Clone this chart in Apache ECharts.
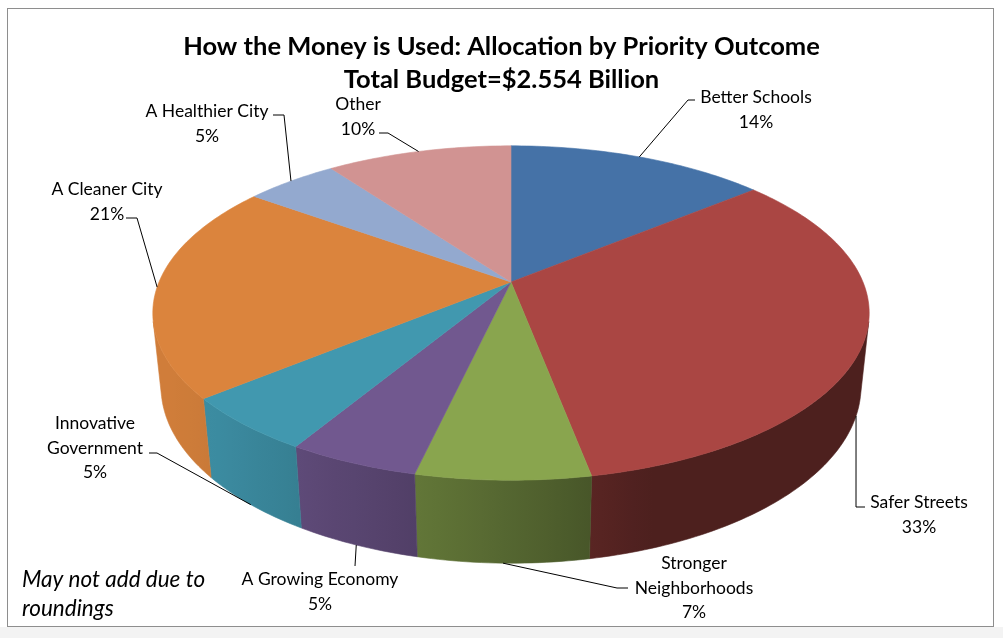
<!DOCTYPE html>
<html><head><meta charset="utf-8">
<script src="https://cdn.jsdelivr.net/npm/echarts@6/dist/echarts.min.js"></script>
<style>
html,body{margin:0;padding:0;background:#fff;}
#wrap{position:relative;width:1003px;height:638px;background:#fff;overflow:hidden;}
#frame{position:absolute;left:7px;top:8px;width:985px;height:617px;border:1px solid #8e8e8e;background:#fff;}
#strip{position:absolute;left:0;top:627px;width:1003px;height:11px;background:#f3f3f3;}
#c{position:absolute;left:0;top:0;width:1003px;height:638px;}
</style>
</head><body>
<div id="wrap"><div id="frame"></div><div id="strip"></div><div id="c"></div></div>
<script>
// ---- data ----
const categories = ['Better Schools','Safer Streets','Stronger Neighborhoods','A Growing Economy','Innovative Government','A Cleaner City','A Healthier City','Other'];
const shares = [14.0, 33.0, 6.6, 5.0, 5.4, 21.0, 5.0, 10.0];
const titleLines = ['How the Money is Used: Allocation by Priority Outcome', 'Total Budget=$2.554 Billion'];
const noteLines = ['May not add due to', 'roundings'];

// ---- styles / layout ----
const colors = ['#4572A7','#AA4643','#89A54E','#71588F','#4198AF','#DB843D','#93A9CF','#D19392'];
const FONT = 'Lato, "Open Sans", "DejaVu Sans", sans-serif';
const PIE = {cx: 511, cy: 282, F: 1686, D: 4.79, tilt: 27.3, thick: 0.2365};
const labelLayout = [
  {x: 756, y: 110, wrap: false, knee: [[695, 100], [688, 100]]},
  {x: 919, y: 515, wrap: false, knee: [[865, 507], [856, 507]]},
  {x: 694, y: 588, wrap: true,  knee: [[628, 588], [617, 588]]},
  {x: 320, y: 592, wrap: false, knee: [[355, 566]]},
  {x: 95,  y: 448, wrap: true,  knee: [[149, 453], [157, 453]]},
  {x: 107, y: 202, wrap: false, knee: [[126, 218], [137, 218]]},
  {x: 207, y: 124, wrap: false, knee: [[273, 115], [284, 115]]},
  {x: 358, y: 117, wrap: false, knee: [[379, 133], [388, 133]]}
];

const total = shares.reduce((a, b) => a + b, 0);
const starts = [];
shares.reduce((acc, v, i) => { starts[i] = acc; return acc + v; }, 0);

const ca = Math.cos(PIE.tilt * Math.PI / 180), sa = Math.sin(PIE.tilt * Math.PI / 180);
function proj(phiDeg, Y) {
  const p = phiDeg * Math.PI / 180;
  const u = Math.sin(p), v = -Math.cos(p);
  const yp = Y * ca - v * sa, zp = Y * sa + v * ca;
  const d = PIE.D - zp;
  return [PIE.cx + PIE.F * u / d, PIE.cy - PIE.F * yp / d];
}
const vth = 1 / (PIE.D * ca);
const phiA = Math.acos(-vth) * 180 / Math.PI, phiB = 360 - phiA;

function shade(hex, f) {
  const n = parseInt(hex.slice(1), 16);
  const r = Math.min(255, Math.round(((n >> 16) & 255) * f)), g = Math.min(255, Math.round(((n >> 8) & 255) * f)), b = Math.min(255, Math.round((n & 255) * f));
  return 'rgb(' + r + ',' + g + ',' + b + ')';
}
function light(phiDeg) {
  const p = phiDeg * Math.PI / 180;
  const nl = Math.max(0, -0.95 * Math.sin(p) - 0.33 * Math.cos(p));
  return 0.45 + 0.5 * Math.min(1, nl);
}

function renderItem(params, api) {
  const i = params.dataIndex;
  const val = api.value(0);
  const p0 = starts[i] / total * 360, p1 = (starts[i] + val) / total * 360;
  const children = [];
  // top face
  const pts = [[PIE.cx, PIE.cy]];
  const n = Math.max(2, Math.ceil(p1 - p0));
  for (let k = 0; k <= n; k++) pts.push(proj(p0 + (p1 - p0) * k / n, 0));
  children.push({type: 'polygon', z2: 20, shape: {points: pts},
    style: {fill: colors[i], stroke: colors[i], lineWidth: 0.6}});
  // outer wall (visible part), one polygon with a horizontal shading gradient
  const w0 = Math.max(p0, phiA), w1 = Math.min(p1, phiB);
  if (w1 > w0) {
    const m = Math.max(2, Math.ceil(w1 - w0));
    const topArc = [], botArc = [], samples = [];
    for (let k = 0; k <= m; k++) {
      const a = w0 + (w1 - w0) * k / m;
      const t = proj(a, 0), b = proj(a, -PIE.thick);
      topArc.push(t); botArc.push(b);
      samples.push({x: (t[0] + b[0]) / 2, c: shade(colors[i], light(a))});
    }
    const xs = samples.map(s => s.x);
    const xmin = Math.min.apply(null, xs), xmax = Math.max.apply(null, xs);
    samples.sort((a, b) => a.x - b.x);
    const stops = samples.filter((s, k) => k % 3 === 0 || k === samples.length - 1)
      .map(s => ({offset: xmax > xmin ? (s.x - xmin) / (xmax - xmin) : 0, color: s.c}));
    const grad = new echarts.graphic.LinearGradient(xmin, 0, xmax, 0, stops, true);
    children.push({type: 'polygon', z2: 10,
      shape: {points: topArc.concat(botArc.reverse())},
      style: {fill: grad, stroke: grad, lineWidth: 0.6}});
  }
  // label + leader
  const L = labelLayout[i];
  const pm = (p0 + p1) / 2;
  const vm = -Math.cos(pm * Math.PI / 180);
  const anchor = vm > vth + 0.02 ? proj(pm, -PIE.thick) : proj(pm, 0);
  const name = L.wrap ? categories[i].replace(' ', '\n') : categories[i];
  const pct = Math.round(val / total * 100) + '%';
  children.push({type: 'polyline', z2: 30, shape: {points: L.knee.concat([anchor])},
    style: {stroke: '#000', lineWidth: 1, fill: null}});
  children.push({type: 'text', z2: 30, x: L.x, y: L.y,
    style: {text: name + '\n' + pct, align: 'center', verticalAlign: 'middle',
      fontSize: 17.5, lineHeight: 24.5, fontFamily: FONT, fill: '#000'}});
  return {type: 'group', children: children};
}

const chart = echarts.init(document.getElementById('c'), null, {renderer: 'canvas'});
chart.setOption({
  backgroundColor: 'transparent',
  animation: false,
  title: {text: titleLines.join('\n'), left: 'center', top: 25,
    textStyle: {fontSize: 25.5, fontWeight: 'bold', lineHeight: 33, fontFamily: FONT, color: '#000'}},
  graphic: [{type: 'text', left: 22, top: 565,
    style: {text: noteLines.join('\n'), fontSize: 22.5, fontStyle: 'italic', lineHeight: 29, fontFamily: FONT, fill: '#000'}}],
  series: [{
    type: 'custom', coordinateSystem: 'none', silent: true,
    renderItem: renderItem,
    data: shares.map((v, i) => ({name: categories[i], value: [v]}))
  }]
});
</script>
</body></html>
